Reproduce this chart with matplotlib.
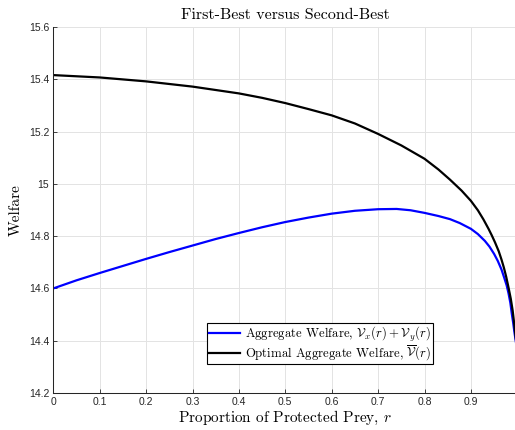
import matplotlib
matplotlib.use('Agg')
import matplotlib.pyplot as plt

# Welfare curves read at selected protection levels r
r_second = [0.0, 0.05, 0.1, 0.15, 0.2, 0.25, 0.3, 0.35, 0.4, 0.45, 0.5, 0.55,
            0.6, 0.65, 0.7, 0.74, 0.77, 0.8, 0.83, 0.855, 0.876, 0.9, 0.915,
            0.93, 0.94, 0.95, 0.958, 0.966, 0.972, 0.977, 0.981, 0.985, 0.988,
            0.991, 0.994, 1.0]
welfare_second = [14.600, 14.631, 14.659, 14.686, 14.713, 14.739, 14.764, 14.789,
                  14.812, 14.834, 14.854, 14.871, 14.886, 14.897, 14.903, 14.904,
                  14.899, 14.889, 14.877, 14.865, 14.850, 14.828, 14.808, 14.782,
                  14.760, 14.732, 14.705, 14.672, 14.640, 14.612, 14.582, 14.545,
                  14.505, 14.470, 14.430, 14.36]

r_first = [0.0, 0.1, 0.2, 0.3, 0.4, 0.45, 0.5, 0.55, 0.6, 0.65, 0.7, 0.75,
           0.8, 0.83, 0.855, 0.88, 0.9, 0.915, 0.927, 0.938, 0.945, 0.952,
           0.96, 0.966, 0.971, 0.976, 0.981, 0.986, 0.990, 0.993, 0.996, 1.0]
welfare_first = [15.416, 15.407, 15.392, 15.372, 15.346, 15.329, 15.309, 15.286,
                 15.262, 15.231, 15.191, 15.147, 15.096, 15.055, 15.016, 14.974,
                 14.935, 14.899, 14.864, 14.828, 14.803, 14.776, 14.742, 14.710,
                 14.680, 14.645, 14.604, 14.560, 14.515, 14.470, 14.420, 14.36]

x_ticks = [0, 0.1, 0.2, 0.3, 0.4, 0.5, 0.6, 0.7, 0.8, 0.9, 1]
x_tick_labels = ['0', '0.1', '0.2', '0.3', '0.4', '0.5', '0.6', '0.7', '0.8', '0.9', '1']
y_ticks = [14.2, 14.4, 14.6, 14.8, 15.0, 15.2, 15.4, 15.6]
y_tick_labels = ['14.2', '14.4', '14.6', '14.8', '15', '15.2', '15.4', '15.6']

plt.rcParams['mathtext.fontset'] = 'cm'
plt.rcParams['axes.unicode_minus'] = False
SERIF = 'cmr10'
TICK_FONT = 'Liberation Sans'

fig = plt.figure(figsize=(5.15, 4.3), dpi=100)
ax = fig.add_axes([53.3 / 515, 37 / 430, 464 / 515, 366 / 430])

ax.plot(r_second, welfare_second, color='#0000ff', lw=1.6,
        solid_joinstyle='round',
        label=r'Aggregate Welfare, $\mathcal{V}_x(r)+\mathcal{V}_y(r)$')
ax.plot(r_first, welfare_first, color='black', lw=1.6,
        solid_joinstyle='round',
        label=r'Optimal Aggregate Welfare, $\overline{\mathcal{V}}(r)$')

ax.set_xlim(0, 1)
ax.set_ylim(14.2, 15.6)
ax.set_xticks(x_ticks)
ax.set_xticklabels(x_tick_labels, fontfamily=TICK_FONT, fontsize=7.5, color='#262626')
ax.set_yticks(y_ticks)
ax.set_yticklabels(y_tick_labels, fontfamily=TICK_FONT, fontsize=7.5, color='#262626')
ax.tick_params(direction='in', length=3, width=0.6, color='#262626', pad=3)

ax.grid(True, color='#e3e3e3', lw=0.7)
ax.set_axisbelow(True)
for side in ['top', 'right']:
    ax.spines[side].set_visible(False)
for side in ['left', 'bottom']:
    ax.spines[side].set_color('#262626')
    ax.spines[side].set_linewidth(0.75)

ax.set_title('First-Best versus Second-Best', fontfamily=SERIF, fontsize=11.5, pad=6)
ax.set_xlabel('Proportion of Protected Prey, $r$', fontfamily=SERIF, fontsize=11, labelpad=1)
ax.set_ylabel('Welfare', fontfamily=SERIF, fontsize=11, labelpad=4)

leg = ax.legend(loc='lower left', bbox_to_anchor=(207 / 515, 66 / 430),
                bbox_transform=fig.transFigure, prop={'family': SERIF, 'size': 9.2},
                fancybox=False, framealpha=1, edgecolor='black',
                handlelength=2.5, borderpad=0.12, labelspacing=0.0,
                handletextpad=0.35, borderaxespad=0)
leg.get_frame().set_linewidth(0.8)

fig.savefig('out.png', dpi=100)
